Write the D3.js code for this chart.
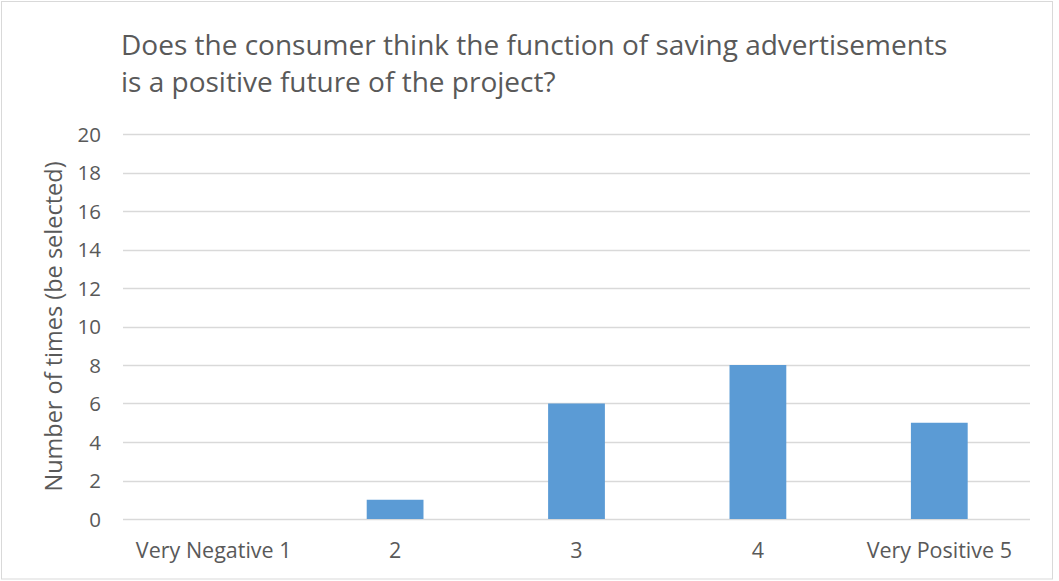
<!DOCTYPE html>
<html>
<head>
<meta charset="utf-8">
<script src="https://cdn.jsdelivr.net/npm/d3@7"></script>
<style>
  html, body { margin: 0; padding: 0; background: #fff; }
  svg { display: block; }
  text { font-family: "Open Sans", "Liberation Sans", Arial, sans-serif; fill: #595959; }
</style>
</head>
<body>
<svg id="chart" width="1059" height="581"></svg>
<script>
// Survey answers: how many times each rating was selected
const categories = ["Very Negative 1", "2", "3", "4", "Very Positive 5"];
const counts = [0, 1, 6, 8, 5];
const yTicks = [0, 2, 4, 6, 8, 10, 12, 14, 16, 18, 20];
const titleLines = [
  "Does the consumer think the function of saving advertisements",
  "is a positive future of the project?"
];
const yAxisTitle = "Number of times (be selected)";

const svg = d3.select("#chart");
const W = 1059, H = 581;
const plot = { left: 123, right: 1030, top: 134, bottom: 519 };
const FONT = "'Open Sans', 'Liberation Sans', Arial, sans-serif";

// chart frame
svg.append("rect")
  .attr("x", 1.5).attr("y", 1.5)
  .attr("width", W - 8).attr("height", H - 3.5)
  .attr("fill", "#fff").attr("stroke", "#D9D9D9").attr("stroke-width", 1);

const x = d3.scaleBand().domain(categories).range([plot.left, plot.right]).padding(0);
const y = d3.scaleLinear().domain([0, 20]).range([plot.bottom, plot.top]);
const barFrac = 0.313;

// gridlines
svg.append("g")
  .selectAll("line")
  .data(yTicks)
  .join("line")
  .attr("x1", plot.left).attr("x2", plot.right)
  .attr("y1", d => Math.round(y(d)) + 0.5).attr("y2", d => Math.round(y(d)) + 0.5)
  .attr("stroke", "#D9D9D9").attr("stroke-width", 1.3);

// bars
svg.append("g")
  .selectAll("rect")
  .data(categories.map((c, i) => ({ c, v: counts[i] })))
  .join("rect")
  .attr("x", d => x(d.c) + x.bandwidth() * (1 - barFrac) / 2)
  .attr("width", x.bandwidth() * barFrac)
  .attr("y", d => y(d.v))
  .attr("height", d => y(0) - y(d.v))
  .attr("fill", "#5B9BD5");

// y axis labels
const yAxis = d3.axisLeft(y).tickValues(yTicks).tickSize(0).tickPadding(0);
const gy = svg.append("g").attr("transform", `translate(101,0)`).call(yAxis);
gy.select(".domain").remove();
gy.selectAll("text").attr("dy", "0.36em").style("font-size", "20.5px").attr("fill", "#595959")
  .style("font-family", FONT);

// x axis labels
const xAxis = d3.axisBottom(x).tickSize(0).tickPadding(0);
const gx = svg.append("g").attr("transform", `translate(0,${plot.bottom})`).call(xAxis);
gx.select(".domain").remove();
gx.selectAll("text").attr("dy", null).attr("y", 39)
  .style("font-size", "21.5px").attr("fill", "#595959")
  .style("font-family", FONT);

// y axis title
svg.append("text")
  .attr("transform", `translate(62,${(plot.top + plot.bottom) / 2}) rotate(-90)`)
  .attr("text-anchor", "middle")
  .style("font-size", "23.5px")
  .text(yAxisTitle);

// chart title
svg.append("g").selectAll("text")
  .data(titleLines)
  .join("text")
  .attr("x", 121)
  .attr("y", (d, i) => 55 + i * 37)
  .style("font-size", "28px")
  .text(d => d);
</script>
</body>
</html>
